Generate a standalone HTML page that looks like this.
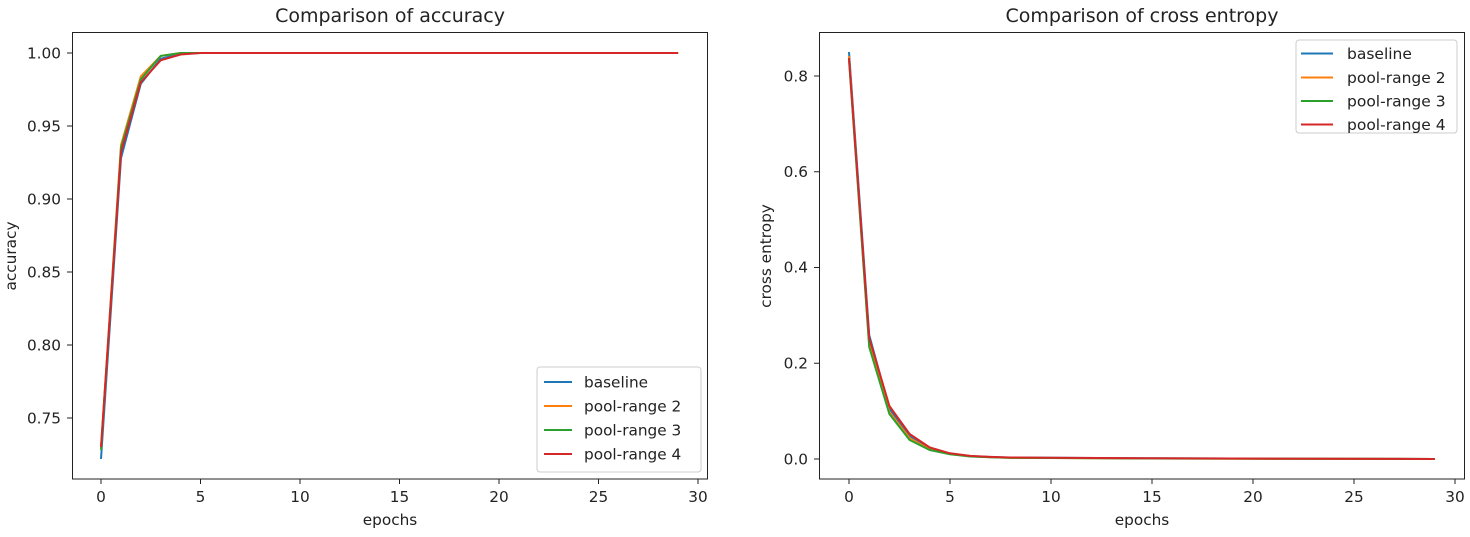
<!DOCTYPE html>
<html><head><style>
body{margin:0;background:#fff}
svg text{font-family:"DejaVu Sans","Liberation Sans",sans-serif;fill:#222}
</style></head><body>
<svg width="1470" height="532" xmlns="http://www.w3.org/2000/svg">
<rect width="1470" height="532" fill="#fff"/>
<!-- LEFT -->
<text x="390" y="22" font-size="19" text-anchor="middle">Comparison of accuracy</text>
<g font-size="15.3" text-anchor="end">
<text x="61" y="58.5">1.00</text><text x="61" y="131.5">0.95</text><text x="61" y="204.5">0.90</text>
<text x="61" y="277.5">0.85</text><text x="61" y="350.5">0.80</text><text x="61" y="423.5">0.75</text>
</g>
<g stroke="#222" stroke-width="1">
<line x1="67" x2="72" y1="53" y2="53"/><line x1="67" x2="72" y1="126" y2="126"/><line x1="67" x2="72" y1="199" y2="199"/>
<line x1="67" x2="72" y1="272" y2="272"/><line x1="67" x2="72" y1="345" y2="345"/><line x1="67" x2="72" y1="418" y2="418"/>
<line x1="101" x2="101" y1="479" y2="484"/><line x1="200.5" x2="200.5" y1="479" y2="484"/><line x1="300" x2="300" y1="479" y2="484"/>
<line x1="399.5" x2="399.5" y1="479" y2="484"/><line x1="499" x2="499" y1="479" y2="484"/><line x1="598.5" x2="598.5" y1="479" y2="484"/><line x1="698" x2="698" y1="479" y2="484"/>
</g>
<g font-size="15.3" text-anchor="middle">
<text x="101" y="502">0</text><text x="200.5" y="502">5</text><text x="300" y="502">10</text><text x="399.5" y="502">15</text>
<text x="499" y="502">20</text><text x="598.5" y="502">25</text><text x="698" y="502">30</text>
<text x="390" y="525">epochs</text>
<text transform="translate(16,256) rotate(-90)">accuracy</text>
</g>
<g fill="none" stroke-width="2">
<polyline stroke="#1f77b4" points="101,458.9 121,158.1 140.8,83.7 160.7,58.8 180.6,53.7 200.5,53 678.1,53"/>
<polyline stroke="#ff7f0e" points="101,447.2 121,145 140.8,76.4 160.7,55.9 180.6,53 200.5,53 678.1,53"/>
<polyline stroke="#2ca02c" points="101,450 121,147.9 140.8,79.3 160.7,55.9 180.6,53 200.5,53 678.1,53"/>
<polyline stroke="#d62728" points="101,447.2 121,152.3 140.8,82.2 160.7,60.3 180.6,54.5 200.5,53 678.1,53"/>
</g>
<rect x="72.5" y="32.5" width="635" height="446.5" fill="none" stroke="#222" stroke-width="1"/>
<rect x="537" y="367" width="164" height="105" rx="3" fill="#fff" fill-opacity="0.8" stroke="#ccc"/>
<g stroke-width="2"><line x1="544" x2="572" y1="382" y2="382" stroke="#1f77b4"/><line x1="544" x2="572" y1="406" y2="406" stroke="#ff7f0e"/>
<line x1="544" x2="572" y1="430" y2="430" stroke="#2ca02c"/><line x1="544" x2="572" y1="454" y2="454" stroke="#d62728"/></g>
<g font-size="15.3"><text x="584" y="387.5">baseline</text><text x="584" y="411.5">pool-range 2</text><text x="584" y="435.5">pool-range 3</text><text x="584" y="459.5">pool-range 4</text></g>

<!-- RIGHT -->
<text x="1142" y="22" font-size="19" text-anchor="middle">Comparison of cross entropy</text>
<g font-size="15.3" text-anchor="end">
<text x="808" y="464.5">0.0</text><text x="808" y="368.5">0.2</text><text x="808" y="272.5">0.4</text><text x="808" y="177">0.6</text><text x="808" y="81.5">0.8</text>
</g>
<g stroke="#222" stroke-width="1">
<line x1="814" x2="819" y1="459" y2="459"/><line x1="814" x2="819" y1="363.25" y2="363.25"/><line x1="814" x2="819" y1="267.5" y2="267.5"/>
<line x1="814" x2="819" y1="171.75" y2="171.75"/><line x1="814" x2="819" y1="76" y2="76"/>
<line x1="849" x2="849" y1="479" y2="484"/><line x1="950" x2="950" y1="479" y2="484"/><line x1="1051" x2="1051" y1="479" y2="484"/>
<line x1="1152" x2="1152" y1="479" y2="484"/><line x1="1253" x2="1253" y1="479" y2="484"/><line x1="1354" x2="1354" y1="479" y2="484"/><line x1="1455" x2="1455" y1="479" y2="484"/>
</g>
<g font-size="15.3" text-anchor="middle">
<text x="849" y="502">0</text><text x="950" y="502">5</text><text x="1051" y="502">10</text><text x="1152" y="502">15</text>
<text x="1253" y="502">20</text><text x="1354" y="502">25</text><text x="1455" y="502">30</text>
<text x="1142" y="525">epochs</text>
<text transform="translate(771,256) rotate(-90)">cross entropy</text>
</g>
<g fill="none" stroke-width="2">
<polyline stroke="#1f77b4" points="849,52 869.2,335 889.4,408.7 909.6,436 929.8,448.5 950,453.7 970.2,456.1 990.4,457 1010.6,457.6 1051,457.8 1152,458.3 1434.8,459"/>
<polyline stroke="#ff7f0e" points="849,56 869.2,344 889.4,412 909.6,438 929.8,449.5 950,454 970.2,456.3 990.4,457.2 1010.6,457.8 1051,458 1152,458.5 1434.8,459"/>
<polyline stroke="#2ca02c" points="849,60 869.2,347 889.4,414 909.6,440 929.8,450 950,454.3 970.2,456.5 990.4,457.3 1010.6,457.9 1051,458 1152,458.5 1434.8,459"/>
<polyline stroke="#d62728" points="849,58 869.2,338 889.4,406 909.6,434 929.8,447.5 950,453.3 970.2,455.9 990.4,456.9 1010.6,457.5 1051,457.8 1152,458.3 1434.8,459"/>
</g>
<rect x="819.5" y="32.5" width="645" height="446.5" fill="none" stroke="#222" stroke-width="1"/>
<rect x="1296" y="40" width="161" height="93" rx="3" fill="#fff" fill-opacity="0.8" stroke="#ccc"/>
<g stroke-width="2"><line x1="1301" x2="1333" y1="53.5" y2="53.5" stroke="#1f77b4"/><line x1="1301" x2="1333" y1="77.5" y2="77.5" stroke="#ff7f0e"/>
<line x1="1301" x2="1333" y1="101" y2="101" stroke="#2ca02c"/><line x1="1301" x2="1333" y1="124.5" y2="124.5" stroke="#d62728"/></g>
<g font-size="15.5"><text x="1347" y="59">baseline</text><text x="1347" y="83">pool-range 2</text><text x="1347" y="106.5">pool-range 3</text><text x="1347" y="130">pool-range 4</text></g>
</svg>
</body></html>
